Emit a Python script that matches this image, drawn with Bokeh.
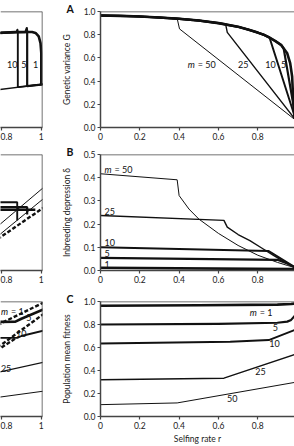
from bokeh.plotting import figure
from bokeh.layouts import row, column
from bokeh.models import Range1d, Span, Title, FixedTicker, NumeralTickFormatter
from bokeh.core.properties import value
from bokeh.embed import file_html
from bokeh.resources import INLINE

FONT = "Lato"
INK = "#111111"
AXIS = "#444444"

m_values = [1, 5, 10, 25, 50]
line_w = {1: 2.6, 5: 2.2, 10: 1.9, 25: 1.4, 50: 1.0}

# ---------- A: genetic variance G ----------
env_r = [0.0, 0.1, 0.2, 0.3, 0.4, 0.5, 0.6, 0.7, 0.75, 0.8, 0.83, 0.86, 0.89, 0.92,
         0.95, 0.965, 0.975, 0.98, 0.987, 0.995]
env_G = [0.965, 0.962, 0.957, 0.948, 0.937, 0.922, 0.90, 0.868, 0.845, 0.818, 0.80,
         0.775, 0.745, 0.71, 0.64, 0.555, 0.44, 0.25, 0.09, 0.06]
depart_r = {5: 0.932, 10: 0.86, 25: 0.636, 50: 0.39}
depart_G = {5: 0.68, 10: 0.775, 25: 0.895, 50: 0.94}
branch_r = {5: [0.995], 10: [0.995], 25: [0.645, 0.995], 50: [0.402, 0.995]}
branch_G = {5: [0.06], 10: [0.06], 25: [0.82, 0.06], 50: [0.85, 0.06]}

# left-hand model, upper row
la_r = {1: [0.78, 0.87, 0.954, 0.971, 0.987, 0.996, 1.0, 1.0],
        5: [0.78, 0.92, 0.927, 0.929, 0.929, 1.01],
        10: [0.78, 0.875, 0.88, 0.882, 0.882, 1.01],
        25: [0.78, 1.01]}
la_G = {1: [0.815, 0.823, 0.823, 0.815, 0.785, 0.728, 0.64, 0.365],
        5: [0.815, 0.823, 0.857, 0.83, 0.357, 0.372],
        10: [0.815, 0.823, 0.843, 0.826, 0.348, 0.372],
        25: [0.325, 0.374]}

# ---------- B: inbreeding depression ----------
B_r = {1: [0.0, 1.0],
       5: [0.0, 0.9, 0.95, 1.0],
       10: [0.0, 0.856, 1.0],
       25: [0.0, 0.628, 0.645, 0.7, 0.76, 0.82, 0.88, 0.94, 1.0],
       50: [0.0, 0.39, 0.40, 0.45, 0.5, 0.6, 0.7, 0.8, 0.9, 0.95, 1.0]}
B_d = {1: [0.012, 0.006],
       5: [0.054, 0.046, 0.03, 0.008],
       10: [0.10, 0.084, 0.008],
       25: [0.237, 0.216, 0.187, 0.155, 0.129, 0.097, 0.065, 0.035, 0.01],
       50: [0.417, 0.391, 0.323, 0.265, 0.222, 0.16, 0.108, 0.066, 0.035, 0.022, 0.01]}

lb_solid_r = {10: [0.78, 0.879, 0.879], 5: [0.78, 0.929, 0.929], 1: [0.78, 0.97]}
lb_solid_d = {10: [0.294, 0.294, 0.216], 5: [0.273, 0.273, 0.241], 1: [0.262, 0.262]}
lb_thin_r = [[0.78, 1.01], [0.78, 1.01]]
lb_thin_d = [[0.190, 0.357], [0.147, 0.309]]
lb_dash_r = [0.78, 1.01]
lb_dash_d = [0.135, 0.270]

# ---------- C: population mean fitness ----------
C_r = {1: [0.0, 0.5, 0.9, 0.97, 1.0],
       5: [0.0, 0.6, 0.9, 0.95, 0.97, 0.99],
       10: [0.0, 0.66, 0.856, 1.0],
       25: [0.0, 0.628, 1.0],
       50: [0.0, 0.39, 1.0]}
C_w = {1: [0.963, 0.967, 0.973, 0.978, 0.985],
       5: [0.80, 0.805, 0.815, 0.825, 0.84, 0.88],
       10: [0.635, 0.65, 0.665, 0.76],
       25: [0.319, 0.333, 0.545],
       50: [0.103, 0.118, 0.30]}

lc_solid_r = {1: [0.78, 0.87, 0.90, 1.01], 10: [0.78, 0.88, 0.90, 1.01],
              25: [0.78, 1.01], 50: [0.78, 1.01]}
lc_solid_w = {1: [0.822, 0.825, 0.85, 0.93], 10: [0.684, 0.684, 0.70, 0.747],
              25: [0.383, 0.471], 50: [0.166, 0.22]}
lc_dash_r = {1: [0.78, 1.01], 5: [0.78, 1.01], 10: [0.80, 0.87]}
lc_dash_w = {1: [0.795, 0.99], 5: [0.60, 0.89], 10: [0.60, 0.678]}

# text placed beside the curves
A_lab_r = [0.444, 0.726, 0.865, 0.932]
A_lab_G = [0.54, 0.54, 0.54, 0.54]
A_lab_t = ["50", "25", "10", "5"]
B_lab_r = [0.02, 0.02, 0.02, 0.02, 0.02]
B_lab_d = [0.434, 0.256, 0.119, 0.072, 0.026]
B_lab_t = ["50", "25", "10", "5", "1"]
C_lab_r = [0.814, 0.89, 0.885, 0.814, 0.67]
C_lab_w = [0.908, 0.77, 0.635, 0.39, 0.155]
C_lab_t = ["1", "5", "10", "25", "50"]
la_lab_r = [0.854, 0.912, 0.971]
la_lab_t = ["10", "5", "1"]
lc_lab_r = [0.797, 0.937, 0.899, 0.797]
lc_lab_w = [0.916, 0.865, 0.72, 0.42]
lc_lab_t = ["1", "5", "10", "25"]

LEFT_W, RIGHT_W = 48, 246
FRAME_H = 116


def style_axis(ax, size="8.5px"):
    ax.axis_line_color = AXIS
    ax.axis_line_width = 1.5
    ax.major_tick_line_color = AXIS
    ax.major_tick_line_width = 1.2
    ax.major_tick_out = 3
    ax.major_tick_in = 0
    ax.minor_tick_line_color = None
    ax.major_label_text_font = FONT
    ax.major_label_text_font_size = size
    ax.major_label_text_color = "#222222"
    ax.major_label_standoff = 2
    ax.axis_label_text_font = FONT
    ax.axis_label_text_font_size = "8.5px"
    ax.axis_label_text_font_style = "normal"
    ax.axis_label_text_color = "#222222"


def right_panel(top, bottom, y_end, y_step, ylabel, letter, xlabel=None):
    p = figure(width=RIGHT_W, height=top + FRAME_H + bottom,
               x_range=Range1d(0, 0.987), y_range=Range1d(0, y_end),
               output_backend="svg", toolbar_location=None,
               min_border_left=52, min_border_right=0,
               min_border_top=top, min_border_bottom=bottom)
    p.outline_line_color = None
    p.grid.visible = False
    style_axis(p.xaxis[0])
    style_axis(p.yaxis[0])
    p.xaxis.ticker = FixedTicker(ticks=[0, 0.2, 0.4, 0.6, 0.8, 1.0])
    p.xaxis.formatter = NumeralTickFormatter(format="0.[0]")
    n = int(round(y_end / y_step))
    p.yaxis.ticker = FixedTicker(ticks=[round(i * y_step, 2) for i in range(n + 1)])
    p.yaxis.formatter = NumeralTickFormatter(format="0.0")
    p.yaxis.axis_label = ylabel
    p.yaxis.axis_label_standoff = 9
    if xlabel:
        p.xaxis.axis_label = xlabel
        p.xaxis.axis_label_standoff = 2
    p.add_layout(Span(location=y_end, dimension="width", line_color=AXIS, line_width=1.5))
    # panel letter in the top-left corner, left of the value axis
    p.add_layout(Title(text=letter, align="left", offset=-34, standoff=-6,
                       text_font=FONT, text_font_size="10.5px", text_font_style="bold",
                       text_color="#111111"), "above")
    return p


def left_panel(top, bottom, y_end):
    p = figure(width=LEFT_W, height=top + FRAME_H + bottom,
               x_range=Range1d(0.795, 1.006), y_range=Range1d(0, y_end),
               output_backend="svg", toolbar_location=None, y_axis_location=None,
               min_border_left=0, min_border_right=LEFT_W - 42,
               min_border_top=top, min_border_bottom=bottom)
    p.outline_line_color = None
    p.grid.visible = False
    style_axis(p.xaxis[0])
    p.xaxis.ticker = FixedTicker(ticks=[0.8, 1.0])
    p.xaxis.formatter = NumeralTickFormatter(format="0.[0]")
    p.add_layout(Span(location=y_end, dimension="width", line_color=AXIS, line_width=1.5))
    p.add_layout(Span(location=1.006, dimension="height", line_color=AXIS, line_width=1.5))
    return p


def m_label(p, x, y, t):
    # italic "m" followed by "= value"
    p.text(x=[x], y=[y], text=["m"], text_font=value(FONT), text_font_size="9px",
           text_font_style="italic", text_align="left", text_baseline="middle",
           text_color=INK)
    p.text(x=[x], y=[y], text=["= " + t], text_font=value(FONT), text_font_size="9px",
           text_align="left", text_baseline="middle", x_offset=10, text_color=INK)


def plain_labels(p, xs, ys, ts, align="center"):
    p.text(x=xs, y=ys, text=ts, text_font=value(FONT), text_font_size="9px",
           text_align=align, text_baseline="middle", text_color=INK)


# ---------- row A ----------
pA = right_panel(11, 16, 1.0, 0.2, "Genetic variance G", "A")
for m in m_values:
    if m == 1:
        xs, ys = env_r, env_G
    else:
        keep = [i for i, r in enumerate(env_r) if r < depart_r[m]]
        xs = [env_r[i] for i in keep] + [depart_r[m]] + branch_r[m]
        ys = [env_G[i] for i in keep] + [depart_G[m]] + branch_G[m]
    pA.line(xs, ys, line_color=INK, line_width=line_w[m], line_join="round")
m_label(pA, A_lab_r[0], A_lab_G[0], A_lab_t[0])
plain_labels(pA, A_lab_r[1:], A_lab_G[1:], A_lab_t[1:])

lA = left_panel(11, 16, 1.0)
for m in [25, 10, 5, 1]:
    lA.line(la_r[m], la_G[m], line_color=INK, line_width=line_w[m], line_join="round")
plain_labels(lA, la_lab_r, [0.54] * 3, la_lab_t)

# ---------- row B ----------
pB = right_panel(11, 16, 0.5, 0.1, "Inbreeding depression δ", "B")
for m in m_values[::-1]:
    pB.line(B_r[m], B_d[m], line_color=INK, line_width=line_w[m], line_join="round")
m_label(pB, B_lab_r[0], B_lab_d[0], B_lab_t[0])
plain_labels(pB, B_lab_r[1:], B_lab_d[1:], B_lab_t[1:], align="left")

lB = left_panel(11, 16, 0.5)
for xs, ys in zip(lb_thin_r, lb_thin_d):
    lB.line(xs, ys, line_color=INK, line_width=1.0)
lB.line(lb_dash_r, lb_dash_d, line_color=INK, line_width=2.4, line_dash="4 2")
for m in [10, 5, 1]:
    lB.line(lb_solid_r[m], lb_solid_d[m], line_color=INK, line_width=line_w[m])

# ---------- row C ----------
pC = right_panel(15, 29, 1.0, 0.2, "Population mean fitness", "C", xlabel="Selfing rate r")
for m in m_values[::-1]:
    pC.line(C_r[m], C_w[m], line_color=INK, line_width=line_w[m], line_join="round")
m_label(pC, C_lab_r[0] - 0.055, C_lab_w[0], C_lab_t[0])
plain_labels(pC, C_lab_r[1:], C_lab_w[1:], C_lab_t[1:])

lC = left_panel(15, 29, 1.0)
for m in [50, 25, 10, 1]:
    lC.line(lc_solid_r[m], lc_solid_w[m], line_color=INK, line_width=line_w[m])
for m in [1, 5, 10]:
    lC.line(lc_dash_r[m], lc_dash_w[m], line_color=INK, line_width=2.4, line_dash="4 2")
m_label(lC, lc_lab_r[0], lc_lab_w[0], lc_lab_t[0])
plain_labels(lC, lc_lab_r[1:3], lc_lab_w[1:3], lc_lab_t[1:3])
plain_labels(lC, lc_lab_r[3:], lc_lab_w[3:], lc_lab_t[3:], align="left")

layout = column(row(lA, pA), row(lB, pB), row(lC, pC))
open("out.html", "w").write(file_html(layout, INLINE))
